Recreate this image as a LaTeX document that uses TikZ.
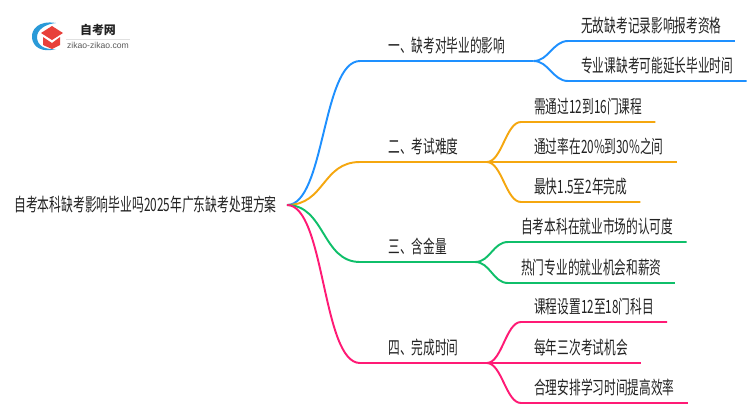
\documentclass[tikz,border=0pt]{standalone}
\usepackage{fontspec}
\usepackage{xcolor}
\setmainfont{Noto Sans CJK SC}
\newfontfamily\latinsans{Liberation Sans}
\definecolor{blueline}{HTML}{1E90FF}
\definecolor{orangeline}{HTML}{F5A70F}
\definecolor{greenline}{HTML}{0FBF6A}
\definecolor{pinkline}{HTML}{FF1A75}
\definecolor{inktext}{HTML}{222222}
\definecolor{logored}{HTML}{E8403A}
\definecolor{logoblue}{HTML}{2A9AD8}
\begin{document}
\begin{tikzpicture}[x=0.02cm, y=-0.02cm,
  textnode/.style={font=\fontsize{10.4pt}{12pt}\selectfont, text=inktext, xscale=0.64, transform shape, inner ysep=3.9pt},
  rootnode/.style={textnode, xscale=1.01, anchor=east, inner xsep=8.9pt, inner ysep=2pt},
  branchnode/.style={textnode, anchor=south west, inner xsep=25pt},
  leafnode/.style={textnode, anchor=south west, inner xsep=11.6pt},
  wire/.style={line width=1.1pt}]
\useasboundingbox (0,0) rectangle (750,410);

%logo
\fill[logoblue] (56,23) .. controls (38,20) and (31,30) .. (32,38)
  .. controls (33,47) and (42,53) .. (56,49)
  .. controls (44,50) and (37,45) .. (37,37)
  .. controls (37,30) and (45,24) .. (56,23) -- cycle;
\fill[logored] (41,33) -- (52,26) -- (63,33) -- (52,40) -- cycle;
\fill[logored] (43,37) -- (52,43) -- (60,37) -- (60,45) -- (52,49) -- (43,45) -- cycle;
\node[font=\fontsize{6.8pt}{8pt}\selectfont\bfseries, text=inktext, inner sep=0pt] (logotitle) at (98,30) {自考网};
\draw[black!12, line width=0.4pt] (66,39) -- (130,39);
\node[font=\fontsize{4.9pt}{6pt}\selectfont\latinsans, text=black!65, inner sep=0pt] (logourl) at (98,45) {zikao-zikao.com};

%root
\node[rootnode] (root) at (287,205) {自考本科缺考影响毕业吗2025年广东缺考处理方案};

%branch: name, colour, x, y, text
\def\Branch#1#2#3#4#5{
\node[branchnode] (#1) at (#3,#4) {#5};
\draw[wire,#2] (root.east) .. controls +(38,0) and +(-38,0) .. (#1.south west) -- (#1.south east);
}
%leaf: name, parent, colour, x, y, text
\def\Leaf#1#2#3#4#5#6{
\node[leafnode] (#1) at (#4,#5) {#6};
\draw[wire,#3] (#2.south east) .. controls +(15,0) and +(-15,0) .. (#1.south west) -- (#1.south east);
}

\Branch{first}{blueline}{360}{61}{一、缺考对毕业的影响}
\Leaf{firsta}{first}{blueline}{568}{41}{无故缺考记录影响报考资格}
\Leaf{firstb}{first}{blueline}{568}{81}{专业课缺考可能延长毕业时间}

\Branch{second}{orangeline}{360}{162}{二、考试难度}
\Leaf{seconda}{second}{orangeline}{521}{122}{需通过12到16门课程}
\Leaf{secondb}{second}{orangeline}{521}{162}{通过率在20\%到30\%之间}
\Leaf{secondc}{second}{orangeline}{521}{202}{最快1.5至2年完成}

\Branch{third}{greenline}{360}{262}{三、含金量}
\Leaf{thirda}{third}{greenline}{508}{242}{自考本科在就业市场的认可度}
\Leaf{thirdb}{third}{greenline}{508}{283}{热门专业的就业机会和薪资}

\Branch{fourth}{pinkline}{360}{363}{四、完成时间}
\Leaf{fourtha}{fourth}{pinkline}{521}{322}{课程设置12至18门科目}
\Leaf{fourthb}{fourth}{pinkline}{521}{363}{每年三次考试机会}
\Leaf{fourthc}{fourth}{pinkline}{521}{403}{合理安排学习时间提高效率}
\end{tikzpicture}
\end{document}
